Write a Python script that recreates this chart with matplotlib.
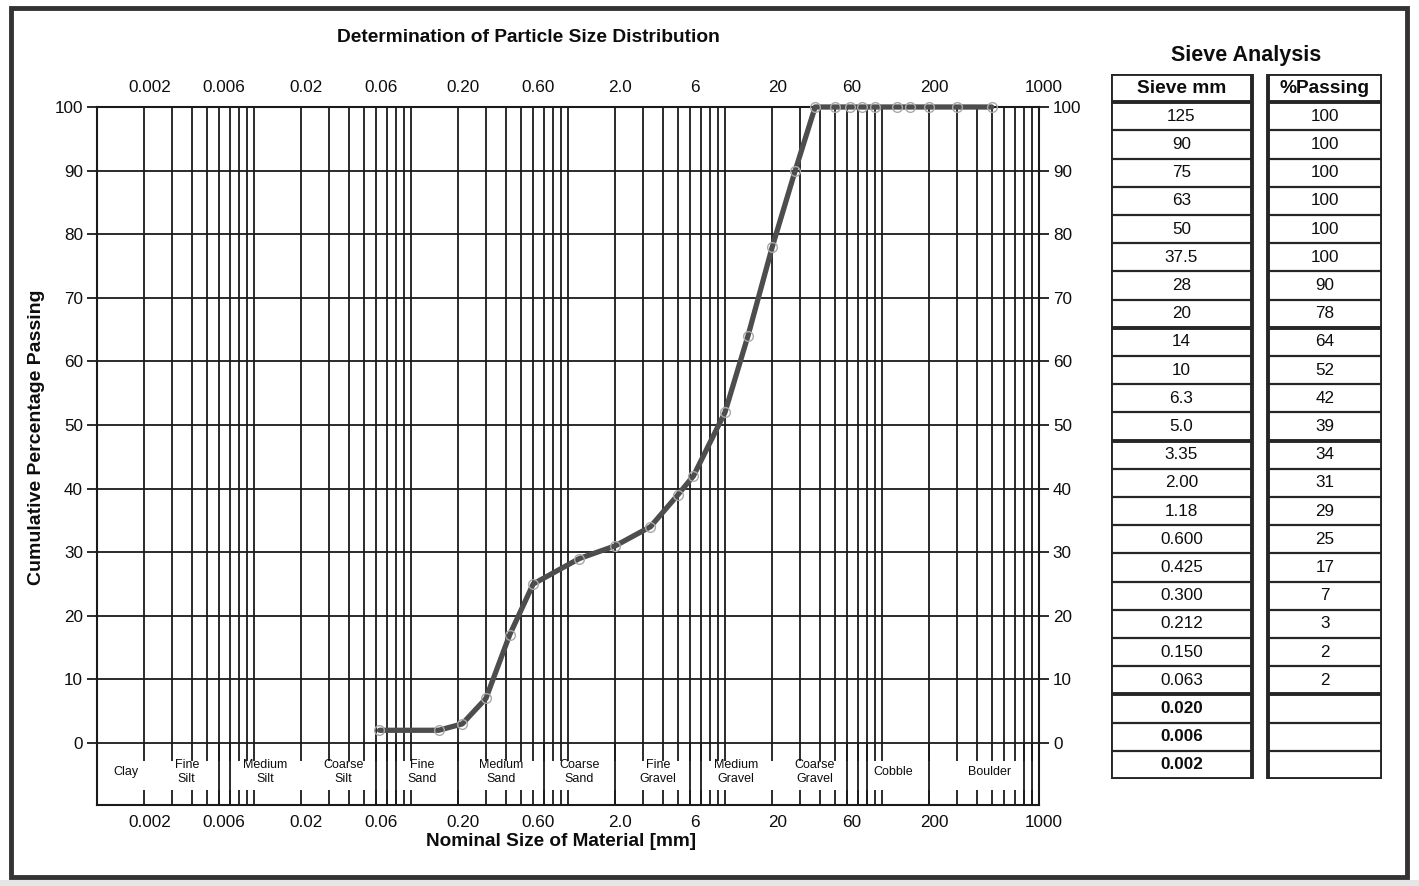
import matplotlib
matplotlib.use("Agg")
import matplotlib.pyplot as plt
import matplotlib.transforms as mtransforms
from matplotlib.patches import Rectangle
import numpy as np

plt.rcParams['font.family'] = ['Liberation Sans', 'DejaVu Sans']

# ---------------- data ----------------
sieve_labels = ["125", "90", "75", "63", "50", "37.5", "28", "20", "14", "10", "6.3", "5.0",
                "3.35", "2.00", "1.18", "0.600", "0.425", "0.300", "0.212", "0.150", "0.063",
                "0.020", "0.006", "0.002"]
sieve_sizes = [125, 90, 75, 63, 50, 37.5, 28, 20, 14, 10, 6.3, 5.0,
               3.35, 2.00, 1.18, 0.600, 0.425, 0.300, 0.212, 0.150, 0.063,
               0.020, 0.006, 0.002]
passing = [100, 100, 100, 100, 100, 100, 90, 78, 64, 52, 42, 39,
           34, 31, 29, 25, 17, 7, 3, 2, 2,
           None, None, None]
# extra plotted points at 100 % (seen on the chart beyond the table)
extra_sizes = [150, 200, 300, 500]
extra_passing = [100, 100, 100, 100]

tick_values = [0.002, 0.006, 0.02, 0.06, 0.2, 0.6, 2, 6, 20, 60, 200, 1000]
tick_labels = ["0.002", "0.006", "0.02", "0.06", "0.20", "0.60", "2.0", "6", "20", "60", "200", "1000"]

class_names = ["Clay", "Fine\nSilt", "Medium\nSilt", "Coarse\nSilt", "Fine\nSand", "Medium\nSand",
               "Coarse\nSand", "Fine\nGravel", "Medium\nGravel", "Coarse\nGravel", "Cobble", "Boulder"]
class_bounds = [0.001, 0.002, 0.006, 0.02, 0.06, 0.2, 0.6, 2, 6, 20, 60, 200, 1000]
band_separators = [0.006, 0.007, 0.06, 0.07, 0.08, 0.2, 0.7, 2, 6, 7, 60, 70, 80, 200, 800, 900]

y_ticks = list(range(0, 101, 10))

# ---------------- layout ----------------
W, H = 1419, 886
fig = plt.figure(figsize=(W / 100, H / 100), dpi=100)
fig.patch.set_facecolor('white')

def fx(px):
    return px / W

def fy(py):
    return 1 - py / H

GRID = '#1a1a1a'
TXT = '#0d0d0d'
YMIN = -9.75

ax = fig.add_axes([fx(97), fy(805), (1039 - 97) / W, (805 - 107) / H])
ax.set_xscale('log')
ax.set_xlim(0.001, 1000)
ax.set_ylim(YMIN, 100)
ax.set_facecolor('white')
ax.minorticks_off()
ax.set_xticks([])
for s in ax.spines.values():
    s.set_color(GRID)
    s.set_linewidth(1.5)

# grid values 1..9 per decade
grid_vals = [k * 10.0 ** d for d in range(-3, 3) for k in range(1, 10)] + [1000]
ax.vlines(grid_vals, 0, 100, color=GRID, lw=1.3, zorder=1)
ax.hlines(y_ticks, 0.001, 1000, color=GRID, lw=1.3, zorder=1)

# band ticks
ax.vlines(grid_vals, -2.8, 0, color=GRID, lw=1.3, zorder=1)
ax.vlines(grid_vals, YMIN, YMIN + 2.4, color=GRID, lw=1.3, zorder=1)
ax.vlines(band_separators, YMIN, 0, color=GRID, lw=1.3, zorder=1)

# y ticks
ax.set_yticks(y_ticks)
ax.tick_params(axis='y', which='major', direction='out', length=7, width=1.3, color=GRID,
               left=True, right=True, labelleft=True, labelright=True, labelsize=12.3,
               pad=3, labelcolor=TXT)
ax.tick_params(axis='x', which='both', length=0)

# x tick labels (top and bottom), slight right shift as in reference
dpi_t = fig.dpi_scale_trans
off = mtransforms.ScaledTranslation(5 / 100, 0, dpi_t)
trans_x = mtransforms.blended_transform_factory(ax.transData, ax.transAxes)
for v, lab in zip(tick_values, tick_labels):
    ax.text(v, 1.0, lab, transform=trans_x + off + mtransforms.ScaledTranslation(0, 12 / 100, dpi_t),
            ha='center', va='bottom', fontsize=12.3, color=TXT)
    ax.text(v, 0.0, lab, transform=trans_x + off + mtransforms.ScaledTranslation(0, -10 / 100, dpi_t),
            ha='center', va='top', fontsize=12.3, color=TXT)

# class labels in band
for i, name in enumerate(class_names):
    xc = np.sqrt(class_bounds[i] * class_bounds[i + 1])
    ax.text(xc, -4.6, name, transform=ax.transData + off, ha='center', va='center',
            fontsize=9, color=TXT, linespacing=1.25)

# data curve
xs = sorted([s for s, p in zip(sieve_sizes, passing) if p is not None] + extra_sizes)
lookup = {s: p for s, p in zip(sieve_sizes, passing) if p is not None}
lookup.update(dict(zip(extra_sizes, extra_passing)))
ys = [lookup[s] for s in xs]
ax.plot(xs, ys, color='#4d4d4d', lw=3.8, zorder=3, solid_capstyle='round', clip_on=False)
ax.plot(xs, ys, ls='none', marker='o', ms=7, mfc='none', mec='#a8a8a8', mew=1.0, zorder=4,
        clip_on=False)

# titles / labels
fig.text(fx(528), fy(38), "Determination of Particle Size Distribution", ha='center', va='center',
         fontsize=13.8, fontweight='bold', color=TXT)
fig.text(fx(37), fy(437), "Cumulative Percentage Passing", ha='center', va='center', rotation=90,
         fontsize=14, fontweight='bold', color=TXT)
fig.text(fx(561), fy(842), "Nominal Size of Material [mm]", ha='center', va='center',
         fontsize=13.7, fontweight='bold', color=TXT)

# ---------------- table ----------------
fig.text(fx(1246), fy(55), "Sieve Analysis", ha='center', va='center', fontsize=15.5,
         fontweight='bold', color=TXT)
axt = fig.add_axes([fx(1111), fy(779), (1382 - 1111) / W, (779 - 74) / H])
axt.set_xlim(0, 271)
nrows = len(sieve_labels) + 1
axt.set_ylim(nrows - 0.5, -0.5)
axt.axis('off')
cols = [(0, 141), (157, 271)]
thick_after = [0, 8, 12, 21]
for (x0, x1) in cols:
    axt.add_patch(Rectangle((x0, -0.5), x1 - x0, nrows, fill=False, lw=2.8, edgecolor='#262626'))
    for i in range(nrows - 1):
        lw = 2.8 if i in thick_after else 1.6
        axt.plot([x0, x1], [i + 0.5, i + 0.5], color='#262626', lw=lw, solid_capstyle='butt')
axt.text(sum(cols[0]) / 2, 0, "Sieve mm", ha='center', va='center', fontsize=13.8,
         fontweight='bold', color=TXT)
axt.text(sum(cols[1]) / 2, 0, "%Passing", ha='center', va='center', fontsize=13.8,
         fontweight='bold', color=TXT)
for i, (lab, p) in enumerate(zip(sieve_labels, passing)):
    bold = p is None
    axt.text(sum(cols[0]) / 2, i + 1, lab, ha='center', va='center', fontsize=12.3,
             fontweight='bold' if bold else 'normal', color=TXT)
    if p is not None:
        axt.text(sum(cols[1]) / 2, i + 1, str(p), ha='center', va='center', fontsize=12.3,
                 color=TXT)

# outer frame
fig.patches.append(Rectangle((fx(11), fy(877)), (1407 - 11) / W, (877 - 8) / H, fill=False,
                             lw=3.5, edgecolor='#333333', transform=fig.transFigure, figure=fig))
fig.patches.append(Rectangle((0, 0), 1, fy(880), fill=True, facecolor='#e6e6e6', lw=0,
                             transform=fig.transFigure, figure=fig))

fig.savefig("out.png", dpi=100)
